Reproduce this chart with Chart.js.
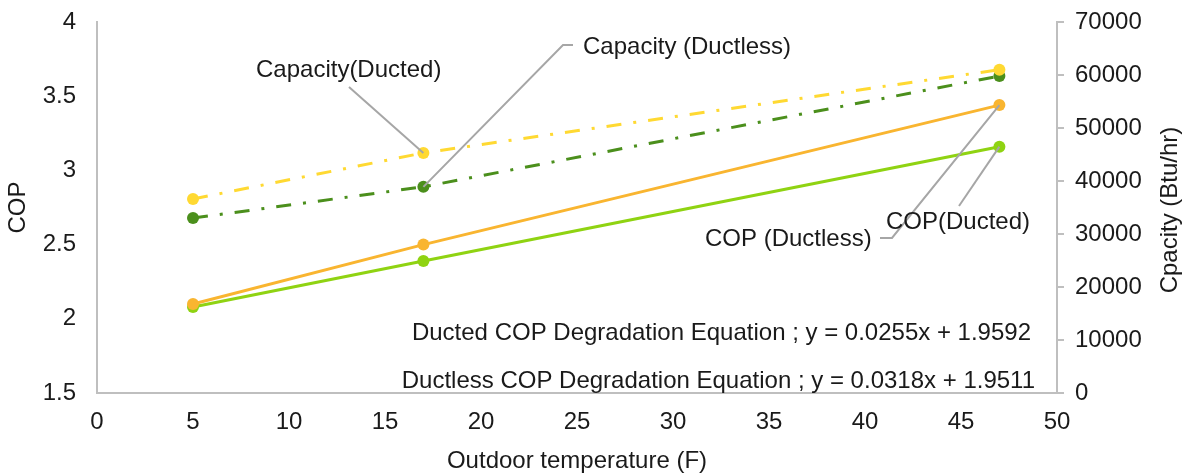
<!DOCTYPE html>
<html><head><meta charset="utf-8">
<script src="https://cdn.jsdelivr.net/npm/chart.js@4.4.1/dist/chart.umd.min.js"></script>
<style>html,body{margin:0;padding:0;background:#fff}#wrap{width:1183px;height:473px;position:relative}</style>
</head><body><div id="wrap"><canvas id="c" width="1183" height="473"></canvas></div>
<script>
// ---- data ----
const temps = [5, 17, 47];
const capacityDucted = [36600, 45300, 61000];
const capacityDuctless = [33000, 38900, 59800];
const copDuctless = [2.10, 2.50, 3.44];
const copDucted = [2.08, 2.39, 3.16];
const xTickStep = 5, xMin = 0, xMax = 50;
const copTickStep = 0.5, copMin = 1.5, copMax = 4;
const capTickStep = 10000, capMin = 0, capMax = 70000;
const equationDucted = 'Ducted COP Degradation Equation ; y = 0.0255x + 1.9592';
const equationDuctless = 'Ductless COP Degradation Equation ; y = 0.0318x + 1.9511';

const FONT = '"Liberation Sans", Arial, sans-serif';
const FS = 24;
const TXT = '#1a1a1a';
const AXIS = '#bfbfbf';

const pts = (ys) => temps.map((t, i) => ({x: t, y: ys[i]}));

// annotations: label text, label placement (px), leader start (px), target dataset / point index
const callouts = [
  {text: 'Capacity(Ducted)', lx: 256, ly: 70, path: [[349, 87]], ds: 0, idx: 1},
  {text: 'Capacity (Ductless)', lx: 583, ly: 47, path: [[573, 45], [563, 45]], ds: 1, idx: 1},
  {text: 'COP (Ductless)', lx: 705, ly: 239, path: [[880, 238], [892, 238]], ds: 2, idx: 2},
  {text: 'COP(Ducted)', lx: 886, ly: 222, path: [[959, 206]], ds: 3, idx: 2}
];

const annotPlugin = {
  id: 'annot',
  afterDatasetsDraw(chart) {
    const ctx = chart.ctx;
    ctx.save();
    ctx.strokeStyle = '#a6a6a6';
    ctx.lineWidth = 2;
    callouts.forEach(c => {
      const meta = chart.getDatasetMeta(c.ds);
      const el = meta.data[c.idx];
      ctx.beginPath();
      ctx.moveTo(c.path[0][0], c.path[0][1]);
      for (let i = 1; i < c.path.length; i++) ctx.lineTo(c.path[i][0], c.path[i][1]);
      ctx.lineTo(el.x, el.y);
      ctx.stroke();
    });
    ctx.fillStyle = TXT;
    ctx.font = FS + 'px ' + FONT;
    ctx.textBaseline = 'middle';
    ctx.textAlign = 'left';
    callouts.forEach(c => ctx.fillText(c.text, c.lx, c.ly));
    ctx.textAlign = 'right';
    ctx.fillText(equationDucted, 1031, 333);
    ctx.fillText(equationDuctless, 1035, 381);
    // right axis title (reads bottom-to-top)
    ctx.translate(1170, 210);
    ctx.rotate(-Math.PI / 2);
    ctx.textAlign = 'center';
    ctx.fillText('Cpacity (Btu/hr)', 0, 0);
    ctx.restore();
  }
};

const dashDot = [15, 12, 3, 12];
const noPad = (s) => { s.paddingTop = 0; s.paddingBottom = 0; };

new Chart(document.getElementById('c'), {
  type: 'line',
  data: {
    datasets: [
      {label: 'Capacity(Ducted)', data: pts(capacityDucted), yAxisID: 'yR', borderColor: '#ffd932', backgroundColor: '#ffd932', borderWidth: 3, borderDash: dashDot, pointRadius: 6, pointBorderWidth: 0},
      {label: 'Capacity (Ductless)', data: pts(capacityDuctless), yAxisID: 'yR', borderColor: '#4b8f1c', backgroundColor: '#4b8f1c', borderWidth: 3, borderDash: dashDot, pointRadius: 6, pointBorderWidth: 0},
      {label: 'COP (Ductless)', data: pts(copDuctless), yAxisID: 'yL', borderColor: '#f9b530', backgroundColor: '#f9b530', borderWidth: 3, pointRadius: 6, pointBorderWidth: 0},
      {label: 'COP(Ducted)', data: pts(copDucted), yAxisID: 'yL', borderColor: '#8fd312', backgroundColor: '#8fd312', borderWidth: 3, pointRadius: 6, pointBorderWidth: 0}
    ]
  },
  options: {
    responsive: false,
    devicePixelRatio: 1,
    animation: false,
    layout: {padding: {top: 22, left: 0, right: 0, bottom: 0}},
    plugins: {legend: {display: false}, tooltip: {enabled: false}},
    scales: {
      x: {
        type: 'linear', min: xMin, max: xMax,
        ticks: {stepSize: xTickStep, font: {family: FONT, size: FS}, color: TXT, padding: 15, maxRotation: 0},
        grid: {display: false, drawTicks: false},
        border: {color: AXIS, width: 2},
        title: {display: true, text: 'Outdoor temperature (F)', font: {family: FONT, size: FS}, color: TXT, padding: {top: 0, bottom: -3}},
        afterFit(s) { s.height = 80; }
      },
      yL: {
        type: 'linear', position: 'left', min: copMin, max: copMax,
        ticks: {stepSize: copTickStep, font: {family: FONT, size: FS}, color: TXT, padding: 21, callback: v => String(v)},
        grid: {display: false, drawTicks: false},
        border: {color: AXIS, width: 2},
        title: {display: true, text: 'COP', font: {family: FONT, size: FS}, color: TXT, padding: {top: 4, bottom: 0}},
        afterFit(s) { s.width = 97; noPad(s); }
      },
      yR: {
        type: 'linear', position: 'right', min: capMin, max: capMax,
        ticks: {stepSize: capTickStep, font: {family: FONT, size: FS}, color: TXT, padding: 11, callback: v => String(v)},
        grid: {display: true, drawOnChartArea: false, drawTicks: true, tickLength: 7, color: AXIS, lineWidth: 2},
        border: {color: AXIS, width: 2},
        afterFit(s) { s.width = 126; noPad(s); }
      }
    }
  },
  plugins: [annotPlugin]
});
</script></body></html>
